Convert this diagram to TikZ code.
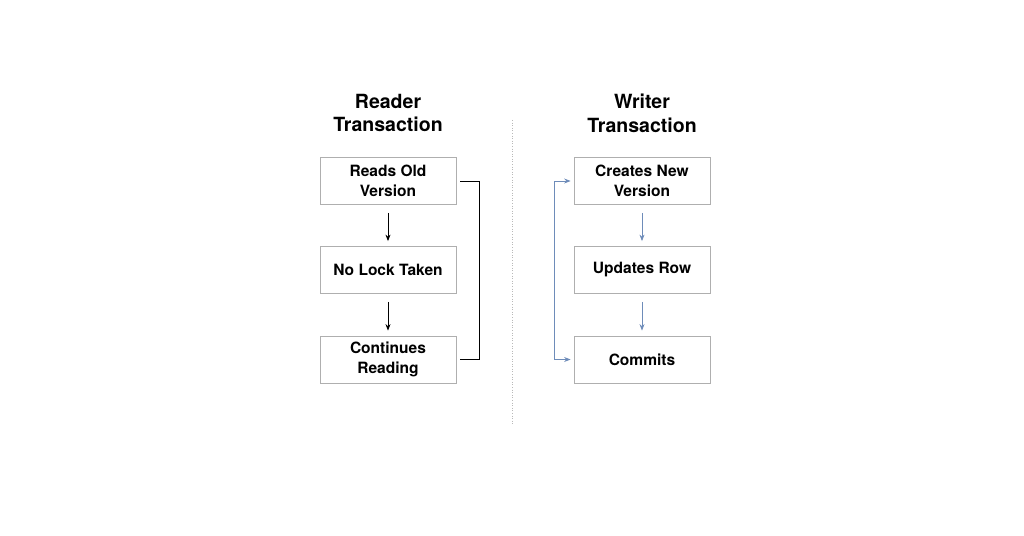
\documentclass[tikz,border=0pt]{standalone}
\usepackage{fontspec}
\setmainfont{TeX Gyre Heros}
\usetikzlibrary{arrows.meta,positioning}
\definecolor{boxgray}{RGB}{175,175,175}
\definecolor{writeblue}{RGB}{110,140,185}
\definecolor{divgray}{RGB}{185,185,185}
\tikzset{
	stepbox/.style={
			draw=boxgray, line width=0.8bp, fill=white,
			minimum width=136bp, minimum height=47bp,
			align=center, font=\fontsize{15.6}{20}\selectfont\bfseries
		},
	heading/.style={align=center, font=\fontsize{19.6}{24}\selectfont\bfseries},
	flow/.style={-{Stealth[length=6.5bp,width=5bp]}, line width=0.8bp}
}
\begin{document}
\begin{tikzpicture}[x=1bp,y=-1bp]

			\useasboundingbox (0,0) rectangle (1024,536);

			% Reader side
			\node[heading] (rtitle) at (388,113) {Reader\\Transaction};
			\node[stepbox] (r1) at (388,181) {Reads Old\\Version};
			\node[stepbox] (r2) at (388,270) {No Lock Taken};
			\node[stepbox] (r3) at (388,359.5) {Continues\\Reading};

			\draw[flow] ([yshift=-8bp]r1.south) -- ([yshift=5bp]r2.north);
			\draw[flow] ([yshift=-8bp]r2.south) -- ([yshift=5bp]r3.north);
			\draw[line width=0.9bp] ([xshift=4bp]r1.east) -- ++(19,0) |- ([xshift=4bp]r3.east);

			% divider
			\coordinate (dtop) at (512,120);
			\coordinate (dbot) at (512,425);
			\draw[divgray, dotted, line width=0.6bp] (dtop) -- (dbot);

			% Writer side
			\node[heading] (wtitle) at (642,113) {Writer\\Transaction};
			\node[stepbox] (w1) at (642,181) {Creates New\\Version};
			\node[stepbox] (w2) at (642,270) {Updates Row};
			\node[stepbox] (w3) at (642,359.5) {Commits};

			\draw[flow, writeblue] ([yshift=-8bp]w1.south) -- ([yshift=5bp]w2.north);
			\draw[flow, writeblue] ([yshift=-8bp]w2.south) -- ([yshift=5bp]w3.north);
			\draw[flow, writeblue, {Stealth[length=6.5bp,width=5bp]}-{Stealth[length=6.5bp,width=5bp]}]
				([xshift=-3bp]w1.west) -- ++(-16,0) |- ([xshift=-3bp]w3.west);

		\end{tikzpicture}
\end{document}
